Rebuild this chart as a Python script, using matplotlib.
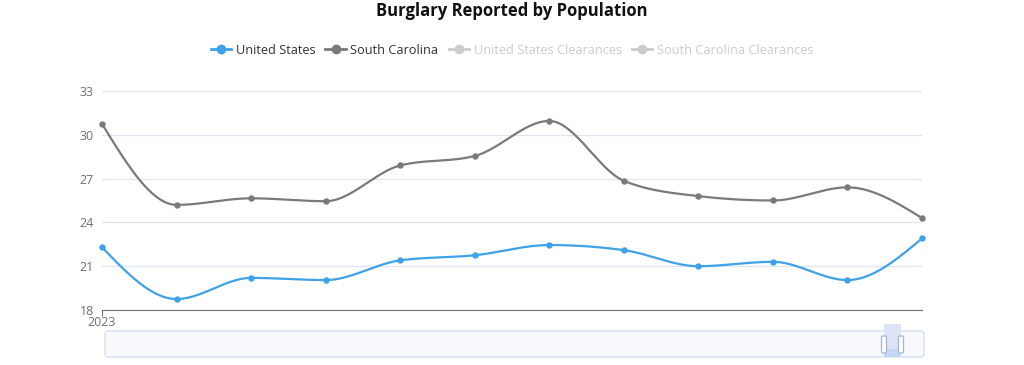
import numpy as np
import matplotlib.pyplot as plt
from matplotlib.lines import Line2D
from matplotlib.patches import Rectangle, FancyBboxPatch

# data (monthly, 2023)
months = ["2023", "Feb", "Mar", "Apr", "May", "Jun", "Jul", "Aug", "Sep", "Oct", "Nov", "Dec"]
us = [22.3, 18.75, 20.2, 20.05, 21.4, 21.75, 22.45, 22.1, 21.0, 21.3, 20.05, 22.9]
sc = [30.75, 25.2, 25.65, 25.45, 27.9, 28.55, 30.95, 26.85, 25.8, 25.5, 26.4, 24.3]
series_names = ["United States", "South Carolina", "United States Clearances", "South Carolina Clearances"]
yticks = [18, 21, 24, 27, 30, 33]

BLUE = "#3ea2e8"
GRAY = "#7a7a7a"
FAINT = "#cccccc"
AXIS = "#6e7079"
GRID = "#e0e6f1"

plt.rcParams['font.family'] = ['Open Sans', 'DejaVu Sans']

fig = plt.figure(figsize=(10.24, 3.65), dpi=100)
ax = fig.add_axes([102 / 1024, 1 - 310 / 365, 820 / 1024, 219 / 365])

x = np.arange(len(months))
ax.set_xlim(0, len(months) - 1)
ax.set_ylim(18, 33)


def smooth_line(xs, ys, n=40):
    # monotone cubic (Fritsch-Carlson style), no overshoot at peaks/dips
    xs = np.asarray(xs, float)
    ys = np.asarray(ys, float)
    h = np.diff(xs)
    s = np.diff(ys) / h
    m = np.zeros_like(ys)
    for i in range(1, len(ys) - 1):
        p = (s[i - 1] * h[i] + s[i] * h[i - 1]) / (h[i - 1] + h[i])
        m[i] = (np.sign(s[i - 1]) + np.sign(s[i])) * min(abs(s[i - 1]), abs(s[i]), 0.5 * abs(p))
    m[0] = (3 * s[0] - m[1]) / 2
    m[-1] = (3 * s[-1] - m[-2]) / 2
    t = np.linspace(0, 1, n)
    px, py = [], []
    for i in range(len(xs) - 1):
        h00 = 2 * t ** 3 - 3 * t ** 2 + 1
        h10 = t ** 3 - 2 * t ** 2 + t
        h01 = -2 * t ** 3 + 3 * t ** 2
        h11 = t ** 3 - t ** 2
        seg = h00 * ys[i] + h10 * h[i] * m[i] + h01 * ys[i + 1] + h11 * h[i] * m[i + 1]
        px.append(xs[i] + t * h[i])
        py.append(seg)
    return np.concatenate(px), np.concatenate(py)


for ys, col in [(sc, GRAY), (us, BLUE)]:
    cx, cy = smooth_line(x, ys)
    ax.plot(cx, cy, color=col, lw=1.6, solid_capstyle='round', zorder=3, clip_on=False)
    ax.plot(x, ys, 'o', color=col, ms=3.6, zorder=4, clip_on=False)

ax.set_yticks(yticks)
ax.set_yticklabels([str(v) for v in yticks], color=AXIS, fontsize=9)
ax.tick_params(axis='y', length=0, pad=6)
ax.grid(axis='y', color=GRID, lw=0.9)
ax.set_axisbelow(True)
ax.set_xticks([0])
ax.set_xticklabels([months[0]], color=AXIS, fontsize=9)
ax.tick_params(axis='x', length=4, color=AXIS, pad=0)
for s in ['top', 'right', 'left']:
    ax.spines[s].set_visible(False)
ax.spines['bottom'].set_color(AXIS)

# title
fig.text(0.5, 1 - 11 / 365, "Burglary Reported by Population", ha='center', va='center',
         fontsize=12, fontweight='bold', color='#111111')

# legend
handles = [
    Line2D([], [], color=BLUE, marker='o', ms=6, lw=2),
    Line2D([], [], color=GRAY, marker='o', ms=6, lw=2),
    Line2D([], [], color=FAINT, marker='o', ms=6, lw=2),
    Line2D([], [], color=FAINT, marker='o', ms=6, lw=2),
]
leg = fig.legend(handles, series_names, loc='center', bbox_to_anchor=(0.5, 1 - 50 / 365),
                 ncol=4, frameon=False, fontsize=9.2, handlelength=1.6, handletextpad=0.35,
                 columnspacing=0.8)
for txt, col in zip(leg.get_texts(), ['#333333', '#333333', FAINT, FAINT]):
    txt.set_color(col)

# data zoom slider
sl = fig.add_axes([0, 0, 1, 1], facecolor='none')
sl.set_xlim(0, 1024)
sl.set_ylim(365, 0)
sl.axis('off')
sl.add_patch(FancyBboxPatch((105, 331), 819, 26, boxstyle="round,pad=0,rounding_size=3",
                            fc='#f8f9fd', ec='#d2dbee', lw=0.9))
sl.add_patch(Rectangle((884, 331), 17, 26, fc='#dbe5f7', ec='none'))
sl.add_patch(Rectangle((884, 349), 17, 8, fc='#c4d6f5', ec='none'))
sl.add_patch(Rectangle((884, 324), 17, 7, fc='#dce4f5', ec='none'))
for hx in (884, 901):
    sl.add_patch(FancyBboxPatch((hx - 2.5, 336), 5, 17, boxstyle="round,pad=0,rounding_size=1.5",
                                fc='white', ec='#a6b4d4', lw=0.9))

fig.savefig("out.png", dpi=100)
